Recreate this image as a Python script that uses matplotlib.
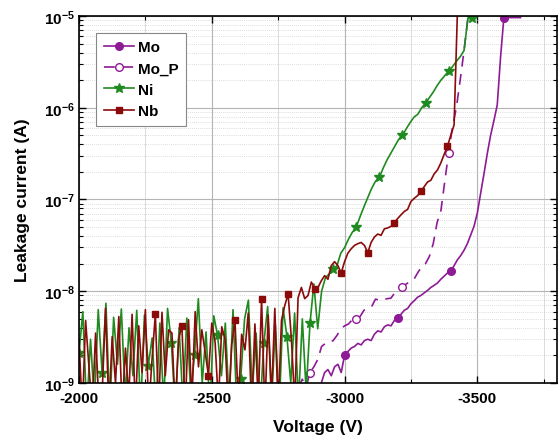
import numpy as np
import matplotlib
matplotlib.use("Agg")
import matplotlib.pyplot as plt
from matplotlib.ticker import MultipleLocator, FixedLocator, NullFormatter, LogLocator

plt.rcParams["font.family"] = ["Liberation Sans", "DejaVu Sans"]
plt.rcParams["font.weight"] = "bold"
plt.rcParams["axes.unicode_minus"] = False
plt.rcParams["mathtext.fontset"] = "custom"
plt.rcParams["mathtext.bf"] = "Liberation Sans:bold"
plt.rcParams["mathtext.rm"] = "Liberation Sans:bold"

# ── leakage currents in nA, sampled at a fixed voltage step per sample ──

# Mo: from -2900 V, 12.5 V step
mo_start, mo_step = -2900, -12.5
mo_na = [0.6, 1.0, 1.3, 1.4, 1.2, 1.5, 1.6, 1.3, 2.0, 2.2,
         2.4, 2.5, 2.7, 2.6, 2.9, 3.0, 2.9, 3.4, 3.7, 3.6,
         4.1, 4.3, 4.2, 4.8, 5.1, 5.6, 6.2, 6.5, 7.3, 7.9,
         8.6, 9.0, 9.6, 10.2, 11.0, 11.6, 12.3, 13.5, 14.6, 15.8,
         16.6, 19, 22, 24.5, 28, 33, 41, 51, 71, 117,
         190, 316, 500, 724, 1070, 3550, 9600, 9600, 9600, 9600,
         9600, 9600]

# Mo_P: from -2826.5 V, 14.5 V step
mop_start, mop_step = -2826.5, -14.5
mop_na = [0.9, 1.1, 0.9, 1.3, 1.5, 1.8, 2.5, 2.7, 2.75, 2.9,
          3.3, 3.9, 4.2, 4.4, 4.9, 5.0, 5.3, 6.2, 6.5, 6.8,
          8.2, 8.0, 8.1, 8.3, 8.4, 9.6, 10.6, 11.2, 12.0, 12.8,
          13.5, 16, 18.5, 20, 24, 33, 56, 76, 158, 324,
          620, 1000, 2000, 4200, 9500]

# Ni: from -2000 V, 14.5 V step
ni_start, ni_step = -2000, -14.5
ni_na = [2.1, 6.0, 0.5, 3.0, 0.6, 6.3, 1.3, 7.4, 0.5, 5.2,
         1.6, 6.4, 0.7, 4.0, 1.2, 6.2, 0.5, 5.5, 1.55, 3.1,
         0.5, 4.5, 0.6, 6.5, 2.7, 0.5, 4.0, 0.6, 5.1, 0.8,
         2.0, 8.3, 1.0, 3.6, 0.5, 5.4, 3.3, 1.2, 4.5, 0.6,
         6.3, 0.5, 1.1, 5.0, 8.0, 0.8, 3.5, 0.5, 2.7, 6.8,
         0.6, 4.3, 0.5, 6.6, 3.2, 1.0, 5.8, 0.6, 5.0, 0.8,
         4.5, 12, 3.9, 10, 14, 15.5, 17.4, 19, 26, 30,
         37, 44, 50, 65, 83, 105, 132, 158, 174, 220,
         270, 320, 380, 450, 500, 590, 690, 790, 850, 1000,
         1120, 1290, 1480, 1740, 2000, 2240, 2500, 2800, 3200, 3600,
         4200, 9400, 9600]

# Nb: from -2000 V, 12.5 V step
nb_start, nb_step = -2000, -12.5
nb_na = [3.0, 0.5, 4.8, 1.5, 0.5, 3.5, 0.6, 0.8, 6.5, 0.5,
         3.2, 1.0, 5.3, 0.5, 2.4, 0.7, 5.6, 0.5, 4.2, 1.3,
         6.3, 0.5, 1.8, 5.6, 0.5, 5.9, 1.2, 3.8, 3.5, 0.5,
         3.0, 4.2, 0.5, 4.9, 0.6, 6.0, 1.5, 3.8, 2.2, 1.2,
         4.5, 2.8, 0.6, 4.1, 3.0, 0.5, 2.6, 4.8, 0.6, 3.4,
         2.3, 5.8, 0.5, 4.4, 0.6, 8.3, 0.5, 5.5, 0.7, 6.5,
         0.5, 4.8, 7.0, 9.3,
         3.0, 0.6, 8.5, 11, 8.3, 9.0, 12.6, 10.7, 11, 13,
         14.8, 13.5, 19, 21, 19, 15.8, 21, 26, 29, 31.6,
         33, 34, 31.6, 26.3, 34, 39, 42, 40.7, 47.9, 49,
         51, 56, 62, 68, 74, 78, 95, 103, 110, 123,
         138, 155, 162, 190, 210, 250, 310, 380, 500, 650,
         11000]

x_ticks = [-2000, -2500, -3000, -3500]
y_ticks = [1e-9, 1e-8, 1e-7, 1e-6, 1e-5]
y_labels = [r"$\mathbf{10^{-9}}$", r"$\mathbf{10^{-8}}$", r"$\mathbf{10^{-7}}$",
            r"$\mathbf{10^{-6}}$", r"$\mathbf{10^{-5}}$"]


def volts(start, step, n):
    return start + step * np.arange(n)


MO_C = "#8e1a96"
NI_C = "#1f8a1f"
NB_C = "#8b0a0a"

fig = plt.figure(figsize=(5.59, 4.39), dpi=100)
ax = fig.add_axes([0.1413, 0.1253, 0.8551, 0.836])

ax.plot(volts(mo_start, mo_step, len(mo_na)), np.array(mo_na) * 1e-9,
        color=MO_C, lw=1.2, marker="o", ms=5.5, markevery=(8, 16), label="Mo")
ax.plot(volts(mop_start, mop_step, len(mop_na)), np.array(mop_na) * 1e-9,
        color=MO_C, lw=1.2, ls=(0, (6.5, 4.5)), marker="o", ms=5.5, mfc="white",
        mec=MO_C, mew=1.0, markevery=(3, 12), label="Mo_P")
ax.plot(volts(ni_start, ni_step, len(ni_na)), np.array(ni_na) * 1e-9,
        color=NI_C, lw=1.2, marker="*", ms=7.5, markevery=(0, 6), label="Ni")
ax.plot(volts(nb_start, nb_step, len(nb_na)), np.array(nb_na) * 1e-9,
        color=NB_C, lw=1.2, marker="s", ms=5, markevery=(7, 8), label="Nb")

ax.set_yscale("log")
ax.set_xlim(-2000, -3800)
ax.set_ylim(1e-9, 1e-5)

ax.xaxis.set_major_locator(FixedLocator(x_ticks))
ax.xaxis.set_minor_locator(MultipleLocator(250))
ax.set_yticks(y_ticks)
ax.set_yticklabels(y_labels)
ax.yaxis.set_minor_locator(LogLocator(base=10, subs=np.arange(2, 10)))
ax.yaxis.set_minor_formatter(NullFormatter())

ax.tick_params(which="both", direction="in", top=True, right=True)
ax.tick_params(which="major", length=5, width=1.0, labelsize=11, pad=6)
ax.tick_params(which="minor", length=3, width=0.8)
ax.tick_params(axis="y", which="major", pad=3)
for lab in ax.get_xticklabels():
    lab.set_fontweight("bold")

ax.grid(which="major", color="#b4b4b4", lw=0.8)
ax.grid(which="minor", axis="x", color="#d6d6d6", lw=0.6)
ax.grid(which="minor", axis="y", color="#d0d0d0", lw=0.6, ls=(0, (1, 1.5)))
ax.set_axisbelow(True)

for sp in ax.spines.values():
    sp.set_linewidth(1.2)

ax.set_xlabel("Voltage (V)", fontsize=12.5, fontweight="bold", labelpad=10)
ax.set_ylabel("Leakage current (A)", fontsize=12.5, fontweight="bold", labelpad=10)

leg = ax.legend(loc="upper left", bbox_to_anchor=(0.036, 0.955), borderaxespad=0,
                fontsize=11, handlelength=2.0, handletextpad=0.25,
                labelspacing=0.48, borderpad=0.5,
                fancybox=False, framealpha=1)
leg.get_frame().set_edgecolor("#888888")
leg.get_frame().set_linewidth(0.8)
for t in leg.get_texts():
    t.set_fontweight("bold")

fig.savefig("out.png", dpi=100)
